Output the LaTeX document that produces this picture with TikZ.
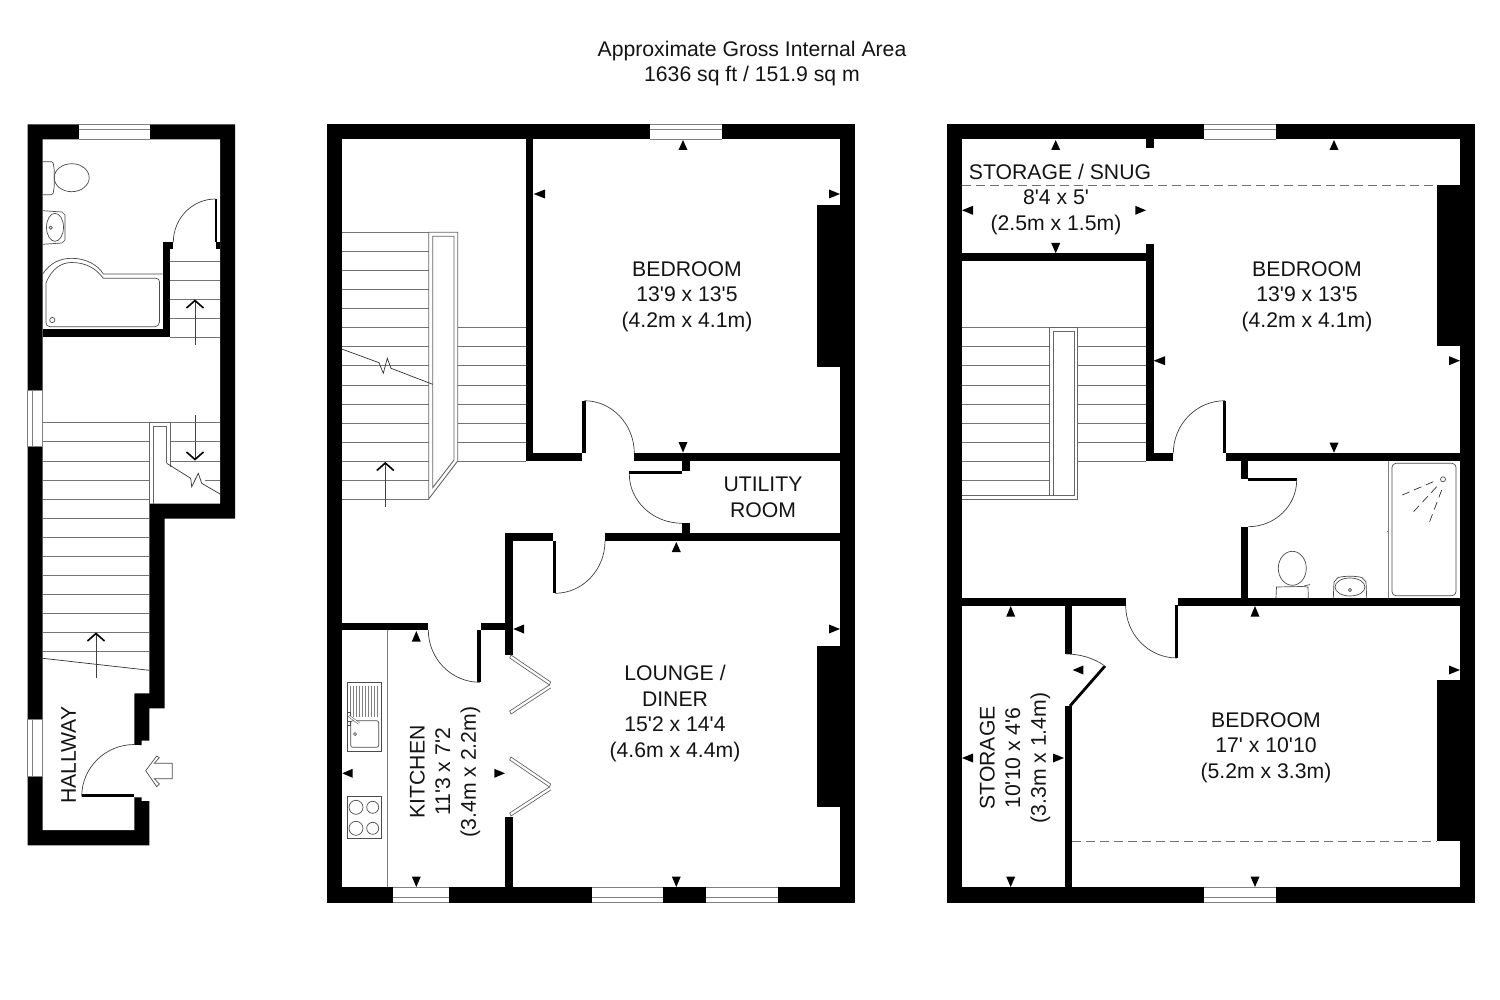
\documentclass[tikz,border=0pt]{standalone}
\usepackage{fontspec}
\setmainfont{Liberation Sans}[Ligatures=TeXOff]
\tikzset{
  solidwall/.style={fill=black,draw=none},
  roomclear/.style={fill=white,draw=none},
  treadline/.style={draw=black!55,line width=0.9pt},
  railline/.style={draw=black!60,line width=0.9pt},
  glazing/.style={draw=black!50,line width=0.8pt},
  swing/.style={draw=black!75,line width=0.7pt},
  fixture/.style={draw=black!70,line width=0.7pt},
  breakline/.style={draw=black!80,line width=0.7pt},
  dimmark/.style={fill=black,draw=none},
  flightarrow/.style={draw=black!75,line width=0.7pt},
  chevron/.style={draw=black,line width=1.6pt,line join=miter},
  slope/.style={draw=black!55,line width=0.8pt,dash pattern=on 9pt off 5pt},
  label/.style={font=\fontsize{21.2}{25.6}\selectfont,align=center,text=black!92,inner sep=0pt},
}
\newcommand{\wallrect}[4]{\fill[solidwall] (#1,#2) rectangle (#3,#4);}
\newcommand{\qarc}[6]{\draw[swing] ({#1+#3},{#2+#4}) .. controls ({#1+#3+.552*#5},{#2+#4+.552*#6}) and ({#1+#5+.552*#3},{#2+#6+.552*#4}) .. ({#1+#5},{#2+#6});}
\newcommand{\triV}[3]{\fill[dimmark] (#1,#2)--({#1-4.5},#3)--({#1+4.5},#3)--cycle;}
\newcommand{\triH}[3]{\fill[dimmark] (#1,#3)--(#2,{#3-4.5})--(#2,{#3+4.5})--cycle;}
\newcommand{\winH}[5]{\fill[white] (#1,#3) rectangle (#2,#5);\draw[glazing] (#1,#3)--(#2,#3) (#1,#4)--(#2,#4) (#1,#5)--(#2,#5);}
\newcommand{\winV}[5]{\fill[white] (#3,#1) rectangle (#5,#2);\draw[glazing] (#3,#1)--(#3,#2) (#4,#1)--(#4,#2) (#5,#1)--(#5,#2) (#3,#1)--(#5,#1) (#3,#2)--(#5,#2);}
\newcommand{\flightup}[3]{\draw[flightarrow] (#1,#2)--(#1,#3);\draw[chevron] ({#1-8.5},{#3+7.5})--(#1,#3)--({#1+8.5},{#3+7.5});}
\newcommand{\flightdown}[3]{\draw[flightarrow] (#1,#2)--(#1,#3);\draw[chevron] ({#1-8.5},{#3-7.5})--(#1,#3)--({#1+8.5},{#3-7.5});}
\begin{document}
\begin{tikzpicture}[x=1pt,y=-1pt]
\useasboundingbox (0,0) rectangle (1500,1000);
\fill[white] (0,0) rectangle (1500,1000);
% ---------- title
\node[label] (title) at (752,63.5) {Approximate Gross Internal Area\\1636 sq ft / 151.9 sq m};

% ================= LEFT PLAN
\fill[solidwall] (27.7,124.3)--(235,124.3)--(235,518.7)--(164.7,518.7)--(164.7,708.3)--(149.3,708.3)--(149.3,740.7)--(141.7,740.7)--(141.7,745)--(134.3,745)--(134.3,797.3)--(141.7,797.3)--(141.7,801)--(149.3,801)--(149.3,845.3)--(27.7,845.3)--cycle;
\fill[roomclear] (42.7,139.3)--(220,139.3)--(220,503.7)--(149.3,503.7)--(149.3,693.3)--(134.3,693.3)--(134.3,830)--(42.7,830)--cycle;
\fill[white] (130,745.3) rectangle (139,797);
\wallrect{42.7}{329.3}{170.3}{337.3}
\wallrect{162.7}{242.3}{170.3}{337.3}
\wallrect{162.7}{242.3}{173.3}{249.5}
\wallrect{214.7}{199}{216.7}{242.3}
\wallrect{216}{242.3}{220}{249.5}
\qarc{215.5}{242.3}{0}{-43.3}{-42.2}{0}
\winH{79.3}{150}{124.3}{129}{139.3}
\winV{390}{446.7}{27.7}{32.3}{42.7}
\winV{719.3}{776.7}{27.7}{32.3}{42.7}
% upper flight
\foreach \yy in {261,280.2,299.3,318.3,337.3}{\draw[treadline] (170.3,\yy)--(220,\yy);}
\flightup{195}{345.3}{300.5}
\flightdown{195}{415}{459.5}
% long flight
\foreach \yy in {422.7,441.7,461,480,499,518,537,556,575.3,594.3,613.3,632.3,651.3}{\draw[treadline] (42.7,\yy)--(149.3,\yy);}
\draw[breakline] (42.7,658.3)--(149.3,670.3);
\flightup{96}{678}{633.5}
% short flight and rail
\foreach \yy in {422.7,441.7,461}{\draw[treadline] (170.3,\yy)--(220,\yy);}
\draw[treadline] (205,480)--(220,480);
\draw[railline] (149.3,503.7)--(149.3,422.7)--(170.3,422.7)--(170.3,467);
\draw[railline] (153.3,503.7)--(153.3,426.3)--(166.7,426.3)--(166.7,463.3);
\draw[breakline] (166.7,463.3)--(190.7,478.3)--(191.7,486.7)--(198.3,473.3)--(201.7,483.3)--(220,494);
% entrance door
\fill[solidwall] (81.7,794.2) rectangle (134.3,797.3);
\qarc{134.3}{796.5}{0}{-52}{-52.6}{0}
\draw[fixture] (145.7,770.7)--(156.7,756)--(159.3,757.7)--(154.3,763.3)--(172.3,763.3)--(172.3,778.7)--(154.3,778.7)--(159.3,784)--(156.7,786.7)--cycle;
% bathroom fixtures
\draw[fixture,rounded corners=1.5pt] (42.7,161.7)--(53,161.7)--(54.3,170)--(54.3,186)--(53,194.7)--(42.7,194.7);
\draw[fixture] (71.7,177.7) ellipse [x radius=17.5,y radius=14];
\draw[fixture] (42.7,210.7)--(62,212)--(65,215)--(65,240)--(62,243)--(42.7,244.3);
\draw[fixture] (55,227.3) ellipse [x radius=8.5,y radius=14];
\draw[fixture] (50.7,227.7) circle [radius=1.7];
\draw[fixture] (42.7,274) .. controls (50,263) and (60,258.3) .. (71.7,258.3) .. controls (86,258.3) and (98,265) .. (103.3,274)--(162.7,274);
\draw[fixture] (103.3,278.3)--(156,278.3) .. controls (158.5,278.3) and (159.5,280) .. (159.5,282)--(159.5,322) .. controls (159.5,325) and (157,326.7) .. (155,326.7)--(50,326.7) .. controls (47.5,326.7) and (46,325) .. (46,322.5)--(46,283) .. controls (52,268) and (62,262.5) .. (71.7,262.5) .. controls (85,262.5) and (96,268) .. (103.3,278.3);
\draw[fixture] (52.3,320) circle [radius=2.6];
\node[label,rotate=90] (hallway) at (68.5,755) {HALLWAY};

% ================= MIDDLE PLAN
\fill[solidwall] (326.7,124.3) rectangle (855,902.7);
\fill[roomclear] (341.7,139.3) rectangle (840,887.3);
\wallrect{526}{139}{533.3}{460.7}
\wallrect{526}{453.3}{582.3}{460.7}
\wallrect{582.3}{400.7}{585.5}{453.3}
\qarc{584.3}{453.3}{0}{-52.6}{50}{0}
\wallrect{634.3}{453.3}{840}{460.7}
\wallrect{682.3}{453.3}{689.7}{471}
\wallrect{629.3}{471}{682.3}{474.3}
\qarc{682.3}{474}{-53}{0}{0}{49.3}
\wallrect{682.3}{523.3}{689.7}{534}
\wallrect{605}{533.3}{840}{541}
\wallrect{505.3}{533.3}{553}{541}
\wallrect{505.3}{533.3}{512.7}{655}
\wallrect{505.3}{817.3}{512.7}{888}
\wallrect{553}{541}{555.7}{593.3}
\qarc{555}{541}{0}{52.3}{50}{0}
\wallrect{341}{622.7}{428.3}{630}
\wallrect{480.7}{622.7}{506}{630}
\wallrect{477.3}{630}{480.7}{682.3}
\qarc{480}{630}{-51.7}{0}{0}{52.3}
\wallrect{817.3}{205}{840}{367}
\wallrect{817.3}{645.7}{840}{807}
\winH{650}{722}{124.3}{129}{139.3}
\winH{392.7}{449.3}{887.3}{897.3}{902.7}
\winH{591.7}{663}{887.3}{897.3}{902.7}
\winH{706}{778}{887.3}{897.3}{902.7}
% stairs
\foreach \yy in {232.3,251.7,270.7,289.7,308.7,327.7,346.7,365.7,385,404,423,442,461,480,499}{\draw[treadline] (341.7,\yy)--(428.7,\yy);}
\foreach \yy in {327.7,346.7,365.7,385,404,423,442,461}{\draw[treadline] (457.7,\yy)--(526,\yy);}
\draw[railline] (428.7,499)--(428.7,232.3)--(457.7,232.3)--(457.7,461)--cycle;
\draw[railline] (432.7,487.7)--(432.7,236.3)--(454,236.3)--(454,460)--cycle;
\draw[breakline] (341.7,349)--(379,362.7)--(383.3,373.3)--(387.3,358.3)--(391,368.3)--(432.7,384.3);
\flightup{385.3}{506.7}{463}
% kitchen
\draw[glazing] (387.7,630)--(387.7,887.3);
\draw[fixture] (347.3,682.3) rectangle (381.7,751);
\draw[fixture,rounded corners=2pt] (350.7,720.7) rectangle (378.7,747.3);
\foreach \xx in {350.5,353.5,...,379}{\draw[glazing,line width=0.6pt] (\xx,685.7)--(\xx,716.7);}
\draw[fixture,fill=white] (347.5,712.5) rectangle (350.5,716);
\draw[fixture,fill=white] (347.5,721.5) rectangle (350.5,725);
\draw[fixture,double=white,double distance=1.2pt,line width=0.5pt] (349,716)--(359,723.5);
\draw[fixture] (355,734) circle [radius=1.5];
\draw[fixture] (347.3,796) rectangle (381.7,838.3);
\draw[fixture] (356,807.3) circle [radius=7];
\draw[fixture] (372.7,807.3) circle [radius=6];
\draw[fixture] (356,828.3) circle [radius=7];
\draw[fixture] (372.7,828.3) circle [radius=6];
% bifold doors
\foreach \yo in {0,102}{
  \draw[railline,line width=0.7pt] (511,{655+\yo})--(550.7,{682+\yo})--(549.5,{685+\yo})--(509.7,{658+\yo})--cycle;
  \draw[railline,line width=0.7pt] (550.7,{688+\yo})--(511,{714+\yo})--(509.7,{711+\yo})--(549.5,{685+\yo});
}
\node[label] (bedmid) at (687,296.5) {BEDROOM\\13'9 x 13'5\\(4.2m x 4.1m)};
\node[label] (utility) at (763,497.5) {UTILITY\\ROOM};
\node[label] (lounge) at (675,713.5) {LOUNGE /\\DINER\\15'2 x 14'4\\(4.6m x 4.4m)};
\node[label,rotate=90] (kitchen) at (445,772) {KITCHEN\\11'3 x 7'2\\(3.4m x 2.2m)};
% dimension marks
\triV{683}{140}{150}
\triH{533.7}{545}{194}
\triH{840}{829}{194}
\triV{683}{452.5}{442}
\triV{676.3}{542}{552}
\triH{513.3}{524}{629}
\triH{840}{829}{629}
\triV{676.3}{887}{876.5}
\triV{416.3}{631}{641.7}
\triH{342.3}{352.7}{773.3}
\triH{505}{494.3}{773.3}
\triV{416.3}{887}{876.5}

% ================= RIGHT PLAN
\fill[solidwall] (946.7,124.3) rectangle (1475,902.7);
\fill[roomclear] (961.7,139.3) rectangle (1460,887.3);
\wallrect{1146}{139}{1153.7}{148.3}
\wallrect{961}{253.3}{1153.7}{261.3}
\wallrect{1146}{244}{1153.7}{460.7}
\wallrect{1146}{453.3}{1173.3}{460.7}
\wallrect{1223}{400.7}{1225.7}{453.3}
\qarc{1225}{453.3}{0}{-52.6}{-51.7}{0}
\wallrect{1225.7}{453.3}{1460}{460.7}
\wallrect{1241}{460}{1248.3}{478.7}
\wallrect{1248.3}{478}{1296.7}{481}
\qarc{1248.3}{480}{48.4}{0}{0}{46.7}
\wallrect{1241}{526.7}{1248.3}{599}
\wallrect{1178}{598}{1460}{605.7}
\wallrect{961}{598}{1125.7}{605.5}
\wallrect{1174.7}{605}{1178}{658}
\qarc{1177}{605.5}{-51.3}{0}{0}{52.5}
\wallrect{1064.7}{598}{1072}{654}
\wallrect{1064.7}{706}{1072}{888}
\draw[black,line width=2.8pt] (1070,706)--(1105,666);
\draw[swing] (1066,654) .. controls (1080,654) and (1093,658) .. (1103.5,665);
\wallrect{1437}{185}{1460}{346}
\wallrect{1437}{680}{1460}{841}
\winH{1204}{1276}{124.3}{129}{139.3}
\winH{1204}{1276}{887.3}{897.3}{902.7}
\draw[slope] (961.7,185)--(1437,185);
\draw[slope] (1072,841.7)--(1437,841.7);
% stairs
\foreach \yy in {327.7,346.7,365.7,385,404,423,442,461,480}{\draw[treadline] (961.7,\yy)--(1049.3,\yy);}
\foreach \yy in {327.7,346.7,365.7,385,404,423,442,461}{\draw[treadline] (1077.7,\yy)--(1146,\yy);}
\draw[railline] (1049.3,495.3)--(1049.3,327.7)--(1077.7,327.7)--(1077.7,499.3)--(961.7,499.3);
\draw[railline] (961.7,495.3)--(1074,495.3)--(1074,331.3)--(1053,331.3)--(1053,495.3);
% en-suite fixtures
\draw[glazing] (1388.3,460.7)--(1388.3,598);
\draw[glazing] (1387,531)--(1388.3,531);
\draw[fixture,rounded corners=4pt] (1392,463.3) rectangle (1456,595.7);
\draw[fixture] (1443,479.3) circle [radius=2.5];
\draw[breakline,dash pattern=on 8pt off 5pt] (1433.3,481.7)--(1402.3,495);
\draw[breakline,dash pattern=on 8pt off 5pt] (1436.7,486.7)--(1413.3,512);
\draw[breakline,dash pattern=on 8pt off 5pt] (1441.7,490)--(1429,523.3);
\draw[fixture] (1292.3,568.3) ellipse [x radius=14,y radius=17];
\draw[fixture] (1276,598)--(1276.5,587)--(1302,586.5)--(1308,587)--(1308.3,598);
\draw[fixture] (1304,586)--(1310,584.5);
\draw[fixture] (1333.3,598)--(1334,582)--(1338,577.5) .. controls (1345,575.8) and (1355,575.8) .. (1362,577.5)--(1366,582)--(1366.7,598);
\draw[fixture] (1350,587) ellipse [x radius=15,y radius=9];
\draw[fixture] (1350,590) circle [radius=1.7];
\node[label] (snug) at (1060,172) {STORAGE / SNUG};
\node[label] (snugsize) at (1056,212.5) {8'4 x 5'\\(2.5m x 1.5m)};
\node[label] (bedtop) at (1307,296.5) {BEDROOM\\13'9 x 13'5\\(4.2m x 4.1m)};
\node[label] (bedlow) at (1266,747.5) {BEDROOM\\17' x 10'10\\(5.2m x 3.3m)};
\node[label,rotate=90] (storage) at (1015,758) {STORAGE\\10'10 x 4'6\\(3.3m x 1.4m)};
% dimension marks
\triV{1055.7}{140}{150}
\triH{962}{973}{210.3}
\triH{1146}{1135.3}{210.3}
\triV{1055.7}{253.3}{243}
\triV{1334}{140}{150}
\triH{1153.7}{1165}{360.7}
\triH{1460}{1449}{360.7}
\triV{1334}{452.7}{442.7}
\triV{1255}{606}{616.7}
\triH{1460}{1449}{670}
\triV{1255}{887}{876.5}
\triH{1072.7}{1083.3}{670}
\triV{1010.7}{606}{616.7}
\triH{962}{973}{758}
\triH{1064}{1053}{758}
\triV{1010.7}{887}{876.5}
\end{tikzpicture}
\end{document}
